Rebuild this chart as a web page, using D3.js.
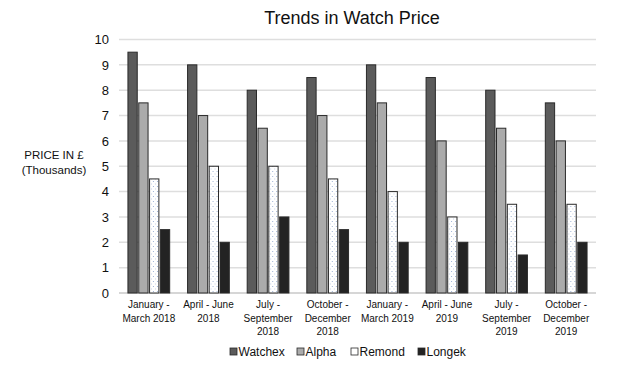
<!DOCTYPE html>
<html>
<head>
<meta charset="utf-8">
<script src="https://cdn.jsdelivr.net/npm/d3@7"></script>
<style>
  body { margin: 0; background: #fff; }
  text { font-family: "Liberation Sans", Arial, sans-serif; fill: #111; }
</style>
</head>
<body>
<script>
let quarters = [
    ["January -", "March 2018"],
    ["April - June", "2018"],
    ["July -", "September", "2018"],
    ["October -", "December", "2018"],
    ["January -", "March 2019"],
    ["April - June", "2019"],
    ["July -", "September", "2019"],
    ["October -", "December", "2019"]
];
let seriesNames = ["Watchex", "Alpha", "Remond", "Longek"];
let watchex = [9.5, 9, 8, 8.5, 9, 8.5, 8, 7.5];
let alpha = [7.5, 7, 6.5, 7, 7.5, 6, 6.5, 6];
let remond = [4.5, 5, 5, 4.5, 4, 3, 3.5, 3.5];
let longek = [2.5, 2, 3, 2.5, 2, 2, 1.5, 2];
let yTicks = [0, 1, 2, 3, 4, 5, 6, 7, 8, 9, 10];

let seriesValues = [watchex, alpha, remond, longek];
let fills = ["#5b5b5b", "#ababab", "url(#dots)", "#232323"];

let SvgWidth = 633;
let SvgHeight = 370;

let Svg = d3.select("body")
    .append("svg")
    .attr("width", SvgWidth)
    .attr("height", SvgHeight);

// dotted pattern for Remond
let pat = Svg.append("defs").append("pattern")
    .attr("id", "dots")
    .attr("width", 4)
    .attr("height", 5)
    .attr("patternUnits", "userSpaceOnUse");
pat.append("rect").attr("width", 4).attr("height", 5).attr("fill", "#fff");
pat.append("rect").attr("x", 1).attr("y", 1).attr("width", 1).attr("height", 1).attr("fill", "#9fb3d6");
pat.append("rect").attr("x", 3).attr("y", 3.5).attr("width", 1).attr("height", 1).attr("fill", "#c4d0e6");

let xScale = d3.scaleBand()
    .domain(d3.range(quarters.length))
    .range([119, 596])
    .paddingInner(0.3)
    .paddingOuter(0.15);

let xInner = d3.scaleBand()
    .domain(seriesNames)
    .range([0, xScale.bandwidth()])
    .paddingInner(0.14);

let yScale = d3.scaleLinear()
    .domain([0, 10])
    .range([293, 39.5]);

// gridlines
Svg.append("g")
    .selectAll("line")
    .data(yTicks)
    .enter()
    .append("line")
    .attr("x1", 119)
    .attr("x2", 596)
    .attr("y1", d => yScale(d))
    .attr("y2", d => yScale(d))
    .attr("stroke", d => d === 0 ? "#c8c8c8" : "#dedede")
    .attr("stroke-width", 1.5);

let LeftAxis = d3.axisLeft(yScale)
    .tickValues(yTicks)
    .tickSize(0)
    .tickPadding(10);

let yAxisG = Svg.append("g")
    .attr("transform", "translate(119,0)")
    .call(LeftAxis);
yAxisG.select(".domain").remove();
yAxisG.selectAll("text")
    .attr("font-size", 13)
    .attr("fill", "#111")
    .style("font-family", "\"Liberation Sans\", Arial, sans-serif");

// bars
let groups = Svg.append("g")
    .selectAll("g")
    .data(quarters)
    .enter()
    .append("g")
    .attr("transform", (d, i) => `translate(${xScale(i)},0)`);

groups.selectAll("rect")
    .data((d, i) => seriesNames.map((s, j) => ({ s: s, j: j, v: seriesValues[j][i] })))
    .enter()
    .append("rect")
    .attr("x", d => xInner(d.s))
    .attr("y", d => yScale(d.v))
    .attr("width", xInner.bandwidth())
    .attr("height", d => yScale(0) - yScale(d.v))
    .attr("fill", d => fills[d.j])
    .attr("stroke", "#2a2a2a")
    .attr("stroke-width", 1);

// x labels
groups.append("text")
    .attr("x", xScale.bandwidth() / 2)
    .attr("y", 308)
    .attr("text-anchor", "middle")
    .attr("font-size", 10)
    .selectAll("tspan")
    .data(d => d)
    .enter()
    .append("tspan")
    .attr("x", xScale.bandwidth() / 2)
    .attr("dy", (d, i) => i === 0 ? 0 : 13.5)
    .text(d => d);

// title
Svg.append("text")
    .attr("x", 352)
    .attr("y", 24)
    .attr("text-anchor", "middle")
    .attr("font-size", 18)
    .text("Trends in Watch Price");

// y label
Svg.append("text")
    .attr("x", 54)
    .attr("y", 159)
    .attr("text-anchor", "middle")
    .attr("font-size", 11.5)
    .text("PRICE IN £");
Svg.append("text")
    .attr("x", 54)
    .attr("y", 174)
    .attr("text-anchor", "middle")
    .attr("font-size", 11.5)
    .text("(Thousands)");

// legend
let legendX = [230, 297, 351, 418];
let legend = Svg.append("g")
    .selectAll("g")
    .data(seriesNames)
    .enter()
    .append("g")
    .attr("transform", (d, i) => `translate(${legendX[i]},348)`);

legend.append("rect")
    .attr("width", 7)
    .attr("height", 7)
    .attr("fill", (d, i) => i === 2 ? "#fff" : fills[i])
    .attr("stroke", "#2a2a2a")
    .attr("stroke-width", 0.8);

legend.append("text")
    .attr("x", 8.5)
    .attr("y", 7.5)
    .attr("font-size", 12)
    .text(d => d);
</script>
</body>
</html>
